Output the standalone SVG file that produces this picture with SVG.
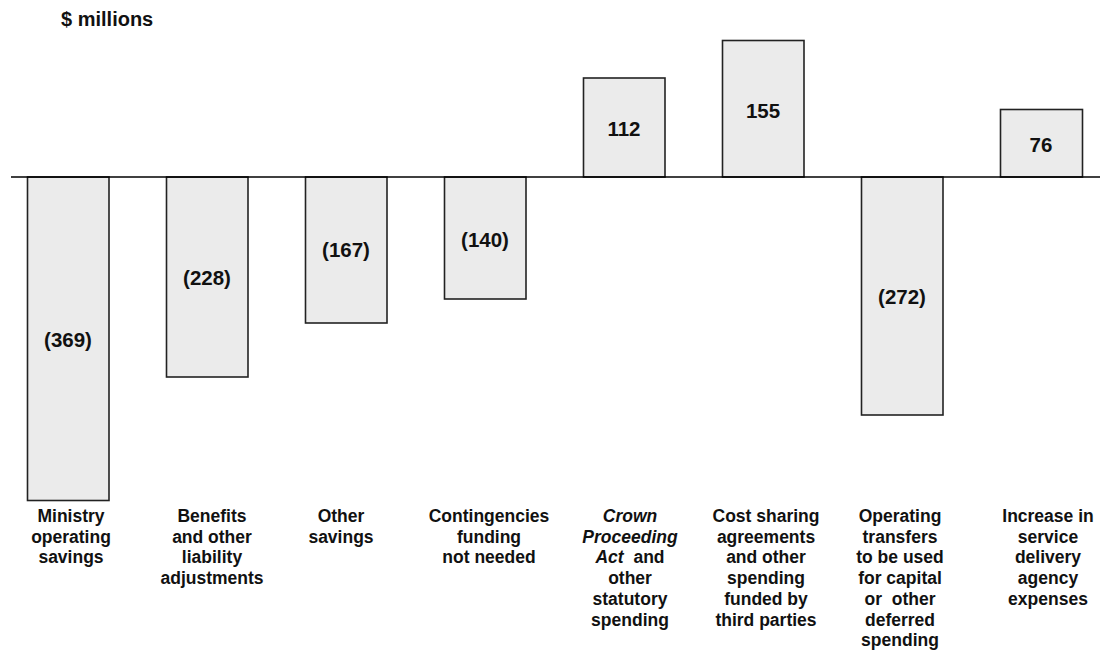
<svg xmlns="http://www.w3.org/2000/svg" width="1103" height="651" viewBox="0 0 1103 651">
<style>
.bar{fill:#ebebeb;stroke:#222;stroke-width:1.6}
.val{font-family:"Liberation Sans",Arial,sans-serif;font-weight:bold;font-size:20.5px;fill:#111;text-anchor:middle}
.cat{font-family:"Liberation Sans",Arial,sans-serif;font-weight:bold;font-size:17.5px;fill:#111;text-anchor:middle}
.unit{font-family:"Liberation Sans",Arial,sans-serif;font-weight:bold;font-size:20px;fill:#111}
.it{font-style:italic}
</style>
<rect width="1103" height="651" fill="#fff"/>
<text class="unit" x="61" y="26">$ millions</text>

<g id="bar1"><rect class="bar" x="27.5" y="177" width="81.5" height="323.5"/><text class="val" x="68" y="347">(369)</text></g>
<g id="bar2"><rect class="bar" x="166.5" y="177" width="81.5" height="200"/><text class="val" x="207" y="285">(228)</text></g>
<g id="bar3"><rect class="bar" x="305.5" y="177" width="81.5" height="146"/><text class="val" x="346" y="257">(167)</text></g>
<g id="bar4"><rect class="bar" x="444.5" y="177" width="81.5" height="122"/><text class="val" x="485" y="247">(140)</text></g>
<g id="bar5"><rect class="bar" x="583.5" y="78" width="81.5" height="99"/><text class="val" x="624" y="136">112</text></g>
<g id="bar6"><rect class="bar" x="722.5" y="40.5" width="81.5" height="136.5"/><text class="val" x="763" y="118">155</text></g>
<g id="bar7"><rect class="bar" x="861.5" y="177" width="81.5" height="238"/><text class="val" x="902" y="304">(272)</text></g>
<g id="bar8"><rect class="bar" x="1000.5" y="109.5" width="82" height="67.5"/><text class="val" x="1041" y="152">76</text></g>

<g id="connectors"><line x1="11" y1="177" x2="1100" y2="177" stroke="#000" stroke-width="1.6"/></g>

<g id="label1"><text class="cat" x="71" y="522"><tspan x="71">Ministry</tspan><tspan x="71" dy="20.7">operating</tspan><tspan x="71" dy="20.7">savings</tspan></text></g>
<g id="label2"><text class="cat" x="212" y="522"><tspan x="212">Benefits</tspan><tspan x="212" dy="20.7">and other</tspan><tspan x="212" dy="20.7">liability</tspan><tspan x="212" dy="20.7">adjustments</tspan></text></g>
<g id="label3"><text class="cat" x="341" y="522"><tspan x="341">Other</tspan><tspan x="341" dy="20.7">savings</tspan></text></g>
<g id="label4"><text class="cat" x="489" y="522"><tspan x="489">Contingencies</tspan><tspan x="489" dy="20.7">funding</tspan><tspan x="489" dy="20.7">not needed</tspan></text></g>
<g id="label5"><text class="cat" x="630" y="522" xml:space="preserve"><tspan x="630" class="it">Crown</tspan><tspan x="630" dy="20.7" class="it">Proceeding</tspan><tspan x="630" dy="20.7"><tspan class="it">Act</tspan>  and</tspan><tspan x="630" dy="20.7">other</tspan><tspan x="630" dy="20.7">statutory</tspan><tspan x="630" dy="20.7">spending</tspan></text></g>
<g id="label6"><text class="cat" x="766" y="522"><tspan x="766">Cost sharing</tspan><tspan x="766" dy="20.7">agreements</tspan><tspan x="766" dy="20.7">and other</tspan><tspan x="766" dy="20.7">spending</tspan><tspan x="766" dy="20.7">funded by</tspan><tspan x="766" dy="20.7">third parties</tspan></text></g>
<g id="label7"><text class="cat" x="900" y="522" xml:space="preserve"><tspan x="900">Operating</tspan><tspan x="900" dy="20.7">transfers</tspan><tspan x="900" dy="20.7">to be used</tspan><tspan x="900" dy="20.7">for capital</tspan><tspan x="900" dy="20.7">or  other</tspan><tspan x="900" dy="20.7">deferred</tspan><tspan x="900" dy="20.7">spending</tspan></text></g>
<g id="label8"><text class="cat" x="1048" y="522"><tspan x="1048">Increase in</tspan><tspan x="1048" dy="20.7">service</tspan><tspan x="1048" dy="20.7">delivery</tspan><tspan x="1048" dy="20.7">agency</tspan><tspan x="1048" dy="20.7">expenses</tspan></text></g>
</svg>
